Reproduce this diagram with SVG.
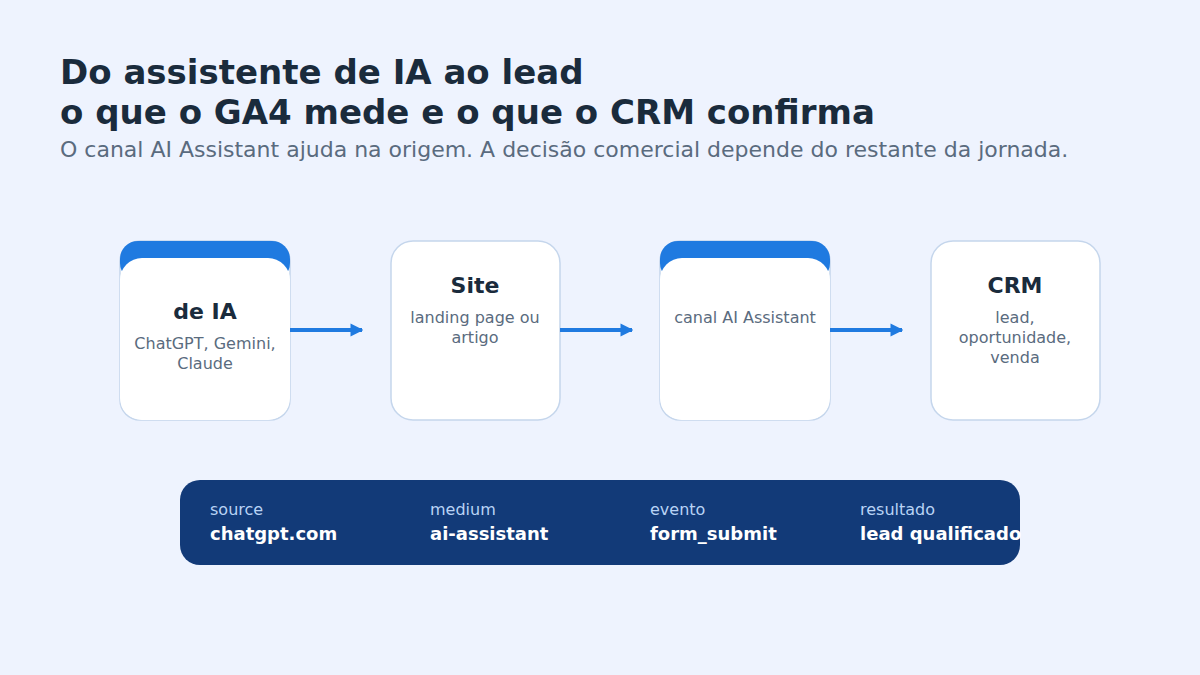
<svg xmlns="http://www.w3.org/2000/svg" width="1200" height="675" viewBox="0 0 1200 675">
<style>
text{font-family:"DejaVu Sans",sans-serif}
.t{font-size:34px;font-weight:bold;fill:#1a2b3c}
.sub{font-size:22px;fill:#5a6b7e}
.card{fill:#fff;stroke:#c5d6ec;stroke-width:1.5}
.h{font-size:22px;font-weight:bold;fill:#1a2b3c;text-anchor:middle}
.d{font-size:16px;fill:#5a6b7e;text-anchor:middle}
.lab{font-size:16px;fill:#b9d3f5}
.val{font-size:18px;font-weight:bold;fill:#fff}
.c{stroke:#1f7ae0;stroke-width:4;fill:none}
</style>
<defs><marker id="a" viewBox="0 0 10 10" refX="9" refY="5" markerWidth="3.2" markerHeight="3.8" orient="auto"><path d="M0,0 L10,5 L0,10 z" fill="#1f7ae0"/></marker></defs>
<rect width="1200" height="675" fill="#eef3fe"/>
<text class="t" x="60" y="84">Do assistente de IA ao lead</text>
<text class="t" x="60" y="124">o que o GA4 mede e o que o CRM confirma</text>
<text class="sub" x="60" y="157">O canal AI Assistant ajuda na origem. A decisão comercial depende do restante da jornada.</text>
<g id="n1"><rect class="card" x="120" y="241" width="170" height="179" rx="20"/><rect x="120" y="241" width="170" height="40" rx="18" fill="#1f7ae0"/><rect x="120" y="258" width="170" height="162" rx="22" fill="#fff"/>
<text class="h" x="205" y="319">de IA</text><text class="d" x="205" y="349">ChatGPT, Gemini,</text><text class="d" x="205" y="369">Claude</text></g>
<g id="n2"><rect class="card" x="391" y="241" width="169" height="179" rx="22"/>
<text class="h" x="475" y="293">Site</text><text class="d" x="475" y="323">landing page ou</text><text class="d" x="475" y="343">artigo</text></g>
<g id="n3"><rect class="card" x="660" y="241" width="170" height="179" rx="20"/><rect x="660" y="241" width="170" height="40" rx="18" fill="#1f7ae0"/><rect x="660" y="258" width="170" height="162" rx="22" fill="#fff"/>
<text class="d" x="745" y="323">canal AI Assistant</text></g>
<g id="n4"><rect class="card" x="931" y="241" width="169" height="179" rx="22"/>
<text class="h" x="1015" y="293">CRM</text><text class="d" x="1015" y="323">lead,</text><text class="d" x="1015" y="343">oportunidade,</text><text class="d" x="1015" y="363">venda</text></g>
<g id="connectors">
<path class="c" d="M290,330 H362" marker-end="url(#a)"/>
<path class="c" d="M560,330 H632" marker-end="url(#a)"/>
<path class="c" d="M830,330 H902" marker-end="url(#a)"/>
</g>
<g id="bar"><rect x="180" y="480" width="840" height="85" rx="20" fill="#123a78"/>
<text class="lab" x="210" y="515">source</text><text class="val" x="210" y="540">chatgpt.com</text>
<text class="lab" x="430" y="515">medium</text><text class="val" x="430" y="540">ai-assistant</text>
<text class="lab" x="650" y="515">evento</text><text class="val" x="650" y="540">form_submit</text>
<text class="lab" x="860" y="515">resultado</text><text class="val" x="860" y="540">lead qualificado</text></g>
</svg>
